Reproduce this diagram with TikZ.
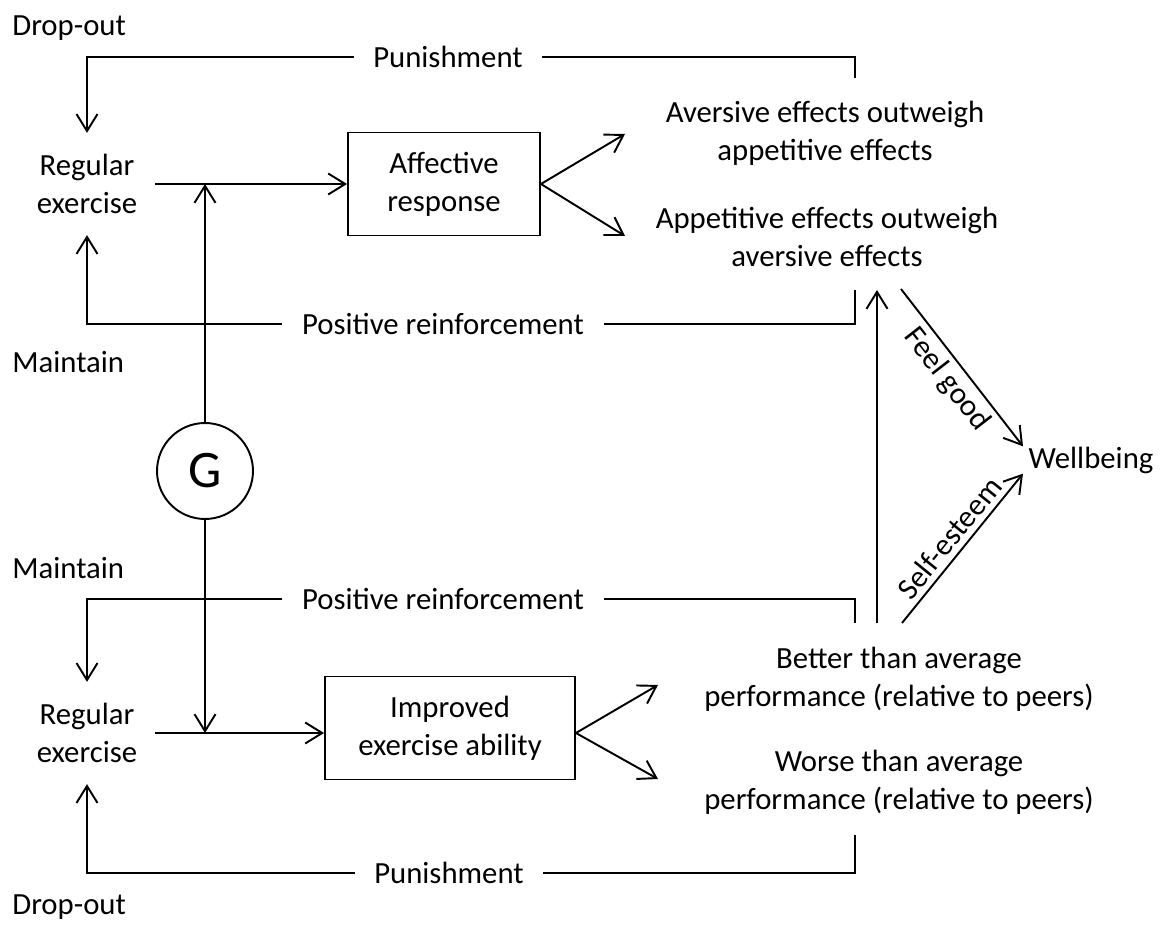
\documentclass[tikz,border=0pt]{standalone}
\usepackage{fontspec}
\setmainfont{Carlito}
\usepackage{tikz}
\usetikzlibrary{arrows.meta}
\tikzset{
  fbtxt/.style={font=\fontsize{17.5}{21.5}\selectfont, align=center, inner sep=0pt},
  fbgap/.style={fbtxt, inner xsep=11pt},
  fbreg/.style={fbtxt, inner xsep=10pt, inner ysep=12pt},
  fbeff/.style={fbtxt, inner ysep=11pt},
  fbbox/.style={fbtxt, draw, line width=1.1pt, minimum height=2.06cm},
  fbedge/.style={line width=1.1pt},
  fbarr/.style={fbedge, -{Straight Barb[length=3.4mm, width=4.2mm]}},
  fbslope/.style={font=\fontsize{17.5}{21.5}\selectfont, sloped, inner sep=3pt},
}

\begin{document}
\begin{tikzpicture}[x=0.02cm, y=-0.02cm]
  \useasboundingbox (0,0) rectangle (1164,929);
  % affective loop
  \node[fbtxt, anchor=west] (dropT) at (12,28) {Drop-out};
  \node[fbgap] (punT) at (448,57) {Punishment};
  \node[fbreg] (regT) at (87,184) {Regular\\exercise};
  \node[fbbox, minimum width=3.84cm] (aff) at (444,184) {Affective\\response};
  \node[fbeff] (aveT) at (825,133) {Aversive effects outweigh\\appetitive effects};
  \node[fbeff] (appT) at (827,237) {Appetitive effects outweigh\\aversive effects};
  \node[fbgap] (posT) at (443,324) {Positive reinforcement};
  \node[fbtxt, anchor=west] (maintT) at (12,362) {Maintain};
  \node[circle, draw, line width=1.1pt, minimum size=1.92cm, inner sep=0pt,
        font=\fontsize{30}{36}\selectfont] (G) at (205,471) {G};
  \node[fbtxt, inner xsep=3pt, anchor=west] (well) at (1023,460) {Wellbeing};
  \coordinate (punR) at (855,78);
  \coordinate (posR) at (855,290);
  \coordinate (aveTip) at (625,134);
  \coordinate (appTip) at (625,236);
  \draw[fbedge] (punR) |- (punT.east);
  \draw[fbarr] (punT.west) -| (regT.north);
  \draw[fbarr] (regT.east) -- (aff.west);
  \draw[fbarr] (G) -- (G |- aff.west);
  \draw[fbarr] (aff.east) -- (aveTip);
  \draw[fbarr] (aff.east) -- (appTip);
  \draw[fbedge] (posR) |- (posT.east);
  \draw[fbarr] (posT.west) -| (regT.south);
  % ability loop
  \node[fbtxt, anchor=west] (maintB) at (12,568) {Maintain};
  \node[fbgap] (posB) at (443,599) {Positive reinforcement};
  \node[fbreg] (regB) at (87,733) {Regular\\exercise};
  \node[fbbox, minimum width=5cm] (imp) at (450,728) {Improved\\exercise ability};
  \node[fbeff] (betT) at (899,679) {Better than average\\performance (relative to peers)};
  \node[fbeff] (worT) at (899,782) {Worse than average\\performance (relative to peers)};
  \node[fbgap] (punB) at (449,873) {Punishment};
  \node[fbtxt, anchor=west] (dropB) at (12,907) {Drop-out};
  \coordinate (posBR) at (855,623);
  \coordinate (punBR) at (855,835);
  \coordinate (betTip) at (658,685);
  \coordinate (worTip) at (658,779);
  \draw[fbedge] (posBR) |- (posB.east);
  \draw[fbarr] (posB.west) -| (regB.north);
  \draw[fbarr] (regB.east) -- (regB.east -| imp.west);
  \draw[fbarr] (G) -- (G |- regB.east);
  \draw[fbarr] (imp.east |- regB.east) -- (betTip);
  \draw[fbarr] (imp.east |- regB.east) -- (worTip);
  \draw[fbedge] (punBR) |- (punB.east);
  \draw[fbarr] (punB.west) -| (regB.south);
  % wellbeing
  \coordinate (upS) at (877,623);
  \coordinate (upE) at (877,290);
  \coordinate (fgS) at (901,289);
  \coordinate (seS) at (902,623);
  \draw[fbarr] (upS) -- (upE);
  \draw[fbarr] (fgS) -- node[fbslope, below] {Feel good} (well.north west);
  \draw[fbarr] (seS) -- node[fbslope, above] {Self-esteem} (well.south west);
\end{tikzpicture}
\end{document}
